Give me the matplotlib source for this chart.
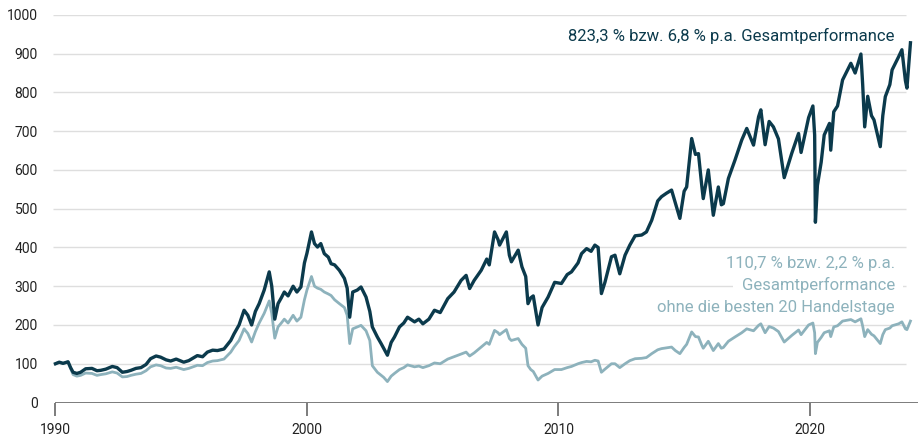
import matplotlib.pyplot as plt
import numpy as np

# Daten (Index, 1990 = 100)
dates = [
    1990.00, 1990.15, 1990.30, 1990.50, 1990.60, 1990.70, 1990.85, 1991.00, 1991.20, 1991.45,
    1991.65, 1991.80, 1992.00, 1992.26, 1992.45, 1992.66, 1992.85, 1993.00, 1993.20, 1993.40,
    1993.60, 1993.78, 1994.00, 1994.18, 1994.40, 1994.58, 1994.80, 1995.10, 1995.30, 1995.64,
    1995.85, 1996.04, 1996.25, 1996.44, 1996.70, 1996.97, 1997.10, 1997.30, 1997.50, 1997.65,
    1997.80, 1997.95, 1998.10, 1998.30, 1998.50, 1998.60, 1998.72, 1998.85, 1998.98, 1999.10,
    1999.25, 1999.45, 1999.60, 1999.76, 1999.90, 2000.00, 2000.18, 2000.30, 2000.42, 2000.55,
    2000.69, 2000.85, 2000.96, 2001.10, 2001.29, 2001.49, 2001.60, 2001.70, 2001.82, 2002.00,
    2002.15, 2002.35, 2002.50, 2002.60, 2002.80, 2002.95, 2003.05, 2003.20, 2003.35, 2003.48,
    2003.68, 2003.85, 2004.00, 2004.28, 2004.45, 2004.61, 2004.85, 2005.07, 2005.30, 2005.60,
    2005.85, 2006.13, 2006.33, 2006.47, 2006.65, 2006.93, 2007.15, 2007.25, 2007.46, 2007.60,
    2007.66, 2007.93, 2008.05, 2008.13, 2008.40, 2008.55, 2008.70, 2008.79, 2008.90, 2009.00,
    2009.19, 2009.35, 2009.59, 2009.85, 2010.12, 2010.35, 2010.52, 2010.78, 2010.92, 2011.12,
    2011.30, 2011.45, 2011.58, 2011.71, 2011.85, 2012.11, 2012.25, 2012.44, 2012.65, 2012.84,
    2013.05, 2013.31, 2013.50, 2013.71, 2013.95, 2014.10, 2014.30, 2014.50, 2014.65, 2014.83,
    2015.00, 2015.10, 2015.30, 2015.45, 2015.57, 2015.70, 2015.76, 2015.96, 2016.16, 2016.36,
    2016.48, 2016.56, 2016.76, 2017.02, 2017.29, 2017.49, 2017.76, 2017.96, 2018.05, 2018.22,
    2018.38, 2018.55, 2018.75, 2018.98, 2019.28, 2019.55, 2019.65, 2019.95, 2020.12, 2020.19,
    2020.22, 2020.30, 2020.45, 2020.57, 2020.78, 2020.83, 2020.95, 2021.10, 2021.30, 2021.63,
    2021.80, 2022.03, 2022.10, 2022.18, 2022.30, 2022.45, 2022.55, 2022.80, 2022.90, 2023.00,
    2023.18, 2023.27, 2023.53, 2023.66, 2023.80, 2023.86, 2024.00,
]
gesamt = [
    100, 104, 101, 105, 90, 78, 75, 78, 87, 88,
    82, 83, 86, 93, 90, 78, 80, 83, 88, 90,
    98, 113, 120, 117, 110, 107, 112, 104, 108, 121,
    118, 130, 135, 134, 138, 160, 177, 200, 238, 225,
    200, 235, 255, 290, 337, 300, 215, 255, 270, 285,
    275, 300, 285, 298, 360, 385, 440, 410, 401, 410,
    384, 375, 358, 355, 341, 320, 295, 220, 285, 290,
    298, 272, 235, 195, 169, 152, 140, 122, 155, 169,
    195, 205, 220, 208, 215, 203, 215, 238, 232, 268,
    285, 315, 328, 294, 315, 341, 370, 355, 440, 420,
    406, 440, 380, 363, 393, 350, 325, 255, 270, 275,
    200, 245, 272, 310, 307, 330, 337, 360, 384, 397,
    390, 406, 400, 281, 310, 376, 380, 332, 380, 406,
    430, 432, 440, 470, 520, 531, 540, 548, 515, 475,
    545, 556, 681, 640, 642, 560, 526, 600, 483, 556,
    510, 513, 578, 625, 677, 707, 664, 737, 755, 665,
    725, 711, 680, 580, 643, 694, 645, 735, 765, 690,
    465, 560, 620, 690, 720, 651, 750, 765, 832, 875,
    850, 899, 820, 711, 790, 740, 729, 660, 740, 789,
    820, 858, 892, 910, 830, 811, 928,
]
ohne_beste_20 = [
    100, 104, 101, 105, 88, 72, 68, 70, 76, 75,
    70, 72, 74, 79, 76, 66, 67, 70, 73, 75,
    82, 92, 97, 95, 89, 88, 91, 85, 88, 96,
    95, 103, 107, 108, 112, 130, 143, 160, 190, 178,
    156, 183, 205, 230, 262, 230, 166, 195, 205, 215,
    205, 225, 210, 220, 265, 290, 325, 300, 295, 292,
    285, 280, 276, 265, 255, 245, 225, 152, 190, 195,
    199, 185, 160, 95, 78, 70, 65, 54, 68, 75,
    85, 90, 97, 92, 94, 90, 95, 102, 100, 112,
    118, 125, 130, 120, 128, 143, 155, 150, 186, 180,
    175, 188, 165, 160, 165, 150, 140, 95, 85, 80,
    58, 68, 75, 85, 85, 90, 93, 100, 103, 106,
    105, 109, 107, 78, 86, 100, 100, 90, 100, 108,
    113, 114, 116, 126, 136, 139, 141, 143, 134, 126,
    142, 150, 182, 170, 169, 148, 140, 158, 134, 152,
    140, 142, 158, 169, 180, 190, 185, 199, 203, 180,
    196, 192, 183, 156, 173, 187, 175, 200, 205, 180,
    126, 155, 168, 180, 185, 170, 195, 198, 210, 214,
    208, 216, 197, 170, 188, 176, 172, 152, 175, 188,
    192, 198, 203, 208, 190, 188, 210,
]
year_ticks = [1990, 2000, 2010, 2020]
value_ticks = [0, 100, 200, 300, 400, 500, 600, 700, 800, 900, 1000]

dark = '#0b3a4c'
light = '#8db2bc'

plt.rcParams['font.family'] = ['Roboto', 'DejaVu Sans']

fig = plt.figure(figsize=(9.18, 4.41), dpi=100)
ax = fig.add_axes([0.0577, 0.0873, 0.9423, 0.879])

# Gitterlinien enden kurz vor dem rechten Rand
ax.hlines(value_ticks[1:], 1989.9, 2023.82, color='#dedede', lw=1, zorder=0)
ax.hlines(0, 1990, 2024.3, color='#666666', lw=1.2, zorder=1)

ax.plot(dates, ohne_beste_20, color=light, lw=2.0, zorder=2)
ax.plot(dates, gesamt, color=dark, lw=2.4, zorder=3)

ax.set_xlim(1989.9, 2024.3)
ax.set_ylim(0, 1000)
for s in ax.spines.values():
    s.set_visible(False)

ax.set_xticks(year_ticks)
ax.set_xticklabels([str(y) for y in year_ticks])
ax.set_yticks(value_ticks)
ax.tick_params(axis='x', length=9, width=1.2, color='#666666', pad=6,
               labelsize=10, labelcolor='#222222')
ax.tick_params(axis='y', length=0, pad=11, labelsize=10, labelcolor='#222222')

ax.text(2023.38, 946, '823,3 % bzw. 6,8 % p.a. Gesamtperformance',
        ha='right', va='center', fontsize=12, color=dark)
# mittlere Zeile mit weißem Hintergrund zuerst, damit sie die anderen nicht verdeckt
ax.text(2023.38, 302, 'Gesamtperformance',
        ha='right', va='center', fontsize=12, color=light, zorder=4,
        bbox=dict(facecolor='white', edgecolor='none', boxstyle='square,pad=0.5'))
ax.text(2023.38, 359, '110,7 % bzw. 2,2 % p.a.',
        ha='right', va='center', fontsize=12, color=light, zorder=5)
ax.text(2023.38, 245, 'ohne die besten 20 Handelstage',
        ha='right', va='center', fontsize=12, color=light, zorder=5)

plt.savefig('out.png', dpi=100)
